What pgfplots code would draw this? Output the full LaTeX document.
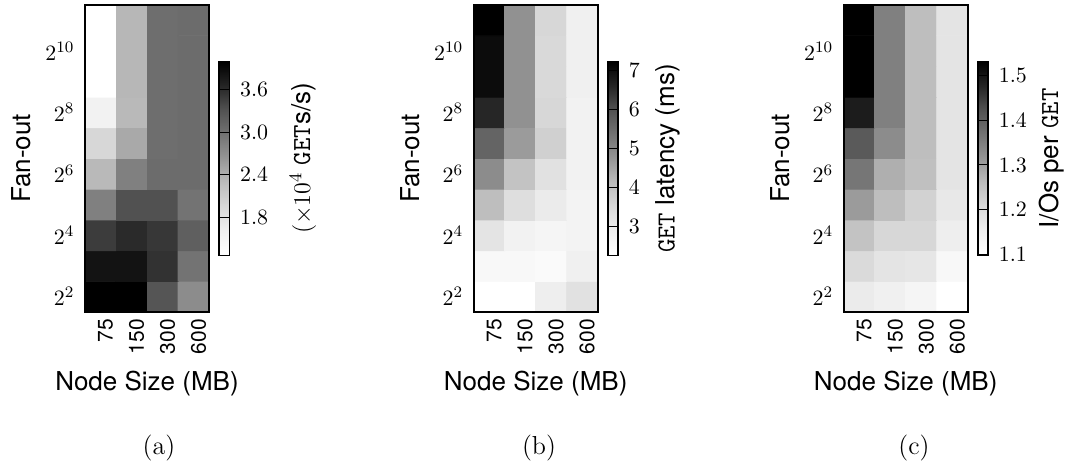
\documentclass[border=0pt]{standalone}
\usepackage{fontspec}
\setsansfont{TeX Gyre Heros}
\usepackage{pgfplots}
\usepackage{pgfplotstable}
\pgfplotsset{compat=1.18}

% Fan-out exponent (y) by node size index (x: 75, 150, 300, 600 MB)
\pgfplotstableread{
x y v
0 2 4.00
1 2 4.00
2 2 3.29
3 2 2.73
0 3 3.83
1 3 3.83
2 3 3.56
3 3 2.97
0 4 3.48
1 4 3.62
2 4 3.52
3 4 3.18
0 5 2.85
1 5 3.32
2 5 3.32
3 5 2.97
0 6 2.32
1 6 2.85
2 6 3.05
3 6 3.05
0 7 1.97
1 7 2.46
2 7 3.03
3 7 3.05
0 8 1.56
1 8 2.32
2 8 3.03
3 8 3.05
0 9 1.26
1 9 2.34
2 9 3.03
3 9 3.05
0 10 1.26
1 10 2.34
2 10 3.03
3 10 3.05
0 11 1.26
1 11 2.34
2 11 3.03
3 11 3.05
}\throughput

\pgfplotstableread{
x y v
0 2 2.25
1 2 2.25
2 2 2.93
3 2 3.28
0 3 2.54
1 3 2.54
2 3 2.46
3 3 2.87
0 4 3.20
1 4 2.79
2 4 2.66
3 4 2.75
0 5 4.10
1 5 3.36
2 5 3.01
3 5 2.75
0 6 4.92
1 6 3.99
2 6 3.28
3 6 2.79
0 7 5.65
1 7 4.67
2 7 3.70
3 7 2.79
0 8 6.60
1 8 4.83
2 8 3.54
3 8 2.79
0 9 7.04
1 9 4.83
2 9 3.50
3 9 2.87
0 10 7.04
1 10 4.83
2 10 3.50
3 10 2.87
0 11 7.24
1 11 4.83
2 11 3.54
3 11 2.87
}\latency

\pgfplotstableread{
x y v
0 2 1.164
1 2 1.152
2 2 1.134
3 2 1.098
0 3 1.204
1 3 1.180
2 3 1.176
3 3 1.123
0 4 1.249
1 4 1.210
2 4 1.210
3 4 1.157
0 5 1.308
1 5 1.259
2 5 1.220
3 5 1.171
0 6 1.364
1 6 1.280
2 6 1.255
3 6 1.180
0 7 1.410
1 7 1.330
2 7 1.259
3 7 1.180
0 8 1.490
1 8 1.349
2 8 1.259
3 8 1.180
0 9 1.531
1 9 1.349
2 9 1.259
3 9 1.180
0 10 1.531
1 10 1.349
2 10 1.259
3 10 1.180
0 11 1.531
1 11 1.349
2 11 1.259
3 11 1.180
}\iospget

\pgfplotsset{
  colormap={greys}{rgb255=(255,255,255) rgb255=(240,240,240) rgb255=(217,217,217)
    rgb255=(189,189,189) rgb255=(150,150,150) rgb255=(115,115,115)
    rgb255=(82,82,82) rgb255=(37,37,37) rgb255=(0,0,0)},
  heat/.style={
    scale only axis, width=62pt, height=153.5pt,
    anchor=south west,
    xmin=-0.5, xmax=3.5, ymin=1.5, ymax=11.5,
    enlargelimits=false, axis on top,
    axis line style={line width=0.9pt},
    major tick length=0pt,
    xtick={0,1,2,3}, xticklabels={75,150,300,600},
    xticklabel style={rotate=90, anchor=east, yshift=-2.5pt,
      font=\sffamily\fontsize{10.5}{12}\selectfont},
    ytick={2,4,6,8,10},
    yticklabels={$2^{2}$,$2^{4}$,$2^{6}$,$2^{8}$,$2^{10}$},
    yticklabel style={xshift=-1.8pt, font=\fontsize{11}{12}\selectfont},
    xlabel={Node Size (MB)},
    xlabel style={at={(axis description cs:0.5,-0.2563)}, anchor=base,
      font=\sffamily\fontsize{13}{15}\selectfont},
    ylabel={Fan-out},
    ylabel style={at={(axis description cs:-0.4355,0.5)}, anchor=base,
      font=\sffamily\fontsize{13}{15}\selectfont},
    colormap name=greys,
    colorbar,
    colorbar shift/.style={xshift=5pt},
    colorbar style={
      at={(parent axis.east)}, anchor=west,
      scale only axis, width=5.25pt, height=97pt,
      axis line style={line width=0.9pt},
      tick align=inside, major tick length=5.25pt,
      ytick style={line width=0.5pt, black},
      yticklabel pos=right,
      yticklabel style={xshift=1.8pt, font=\fontsize{11}{12}\selectfont,
        /pgf/number format/fixed, /pgf/number format/fixed zerofill,
        /pgf/number format/precision=1},
      ylabel style={font=\sffamily\fontsize{13}{15}\selectfont},
    },
  },
}

\begin{document}
\begin{tikzpicture}
\path[use as bounding box] (0,0) rectangle (534pt,233.5pt);

\begin{axis}[heat, at={(42.5pt,77.5pt)},
  point meta min=1.26, point meta max=4.0,
  colorbar style={ytick={1.8,2.4,3.0,3.6}, ylabel shift=4pt,
    ylabel={$(\times 10^{4}$ \texttt{GET}s/s)}}]
  \addplot[matrix plot*, mesh/cols=4, point meta=explicit] table[meta=v] {\throughput};
\end{axis}

\begin{axis}[heat, at={(236.85pt,77.5pt)},
  point meta min=2.25, point meta max=7.24,
  colorbar style={ytick={3,4,5,6,7}, ylabel shift=1pt,
    yticklabel style={/pgf/number format/precision=0},
    ylabel={\texttt{GET} latency (ms)}}]
  \addplot[matrix plot*, mesh/cols=4, point meta=explicit] table[meta=v] {\latency};
\end{axis}

\begin{axis}[heat, at={(421.85pt,77.5pt)},
  point meta min=1.098, point meta max=1.531,
  colorbar style={ytick={1.1,1.2,1.3,1.4,1.5}, ylabel shift=-1pt,
    ylabel={I/Os per \texttt{GET}}}]
  \addplot[matrix plot*, mesh/cols=4, point meta=explicit] table[meta=v] {\iospget};
\end{axis}

\node[anchor=base, font=\fontsize{13}{15}\selectfont] at (79.5pt,6.25pt) {(a)};
\node[anchor=base, font=\fontsize{13}{15}\selectfont] at (269.5pt,6.25pt) {(b)};
\node[anchor=base, font=\fontsize{13}{15}\selectfont] at (457pt,6.25pt) {(c)};
\end{tikzpicture}
\end{document}
